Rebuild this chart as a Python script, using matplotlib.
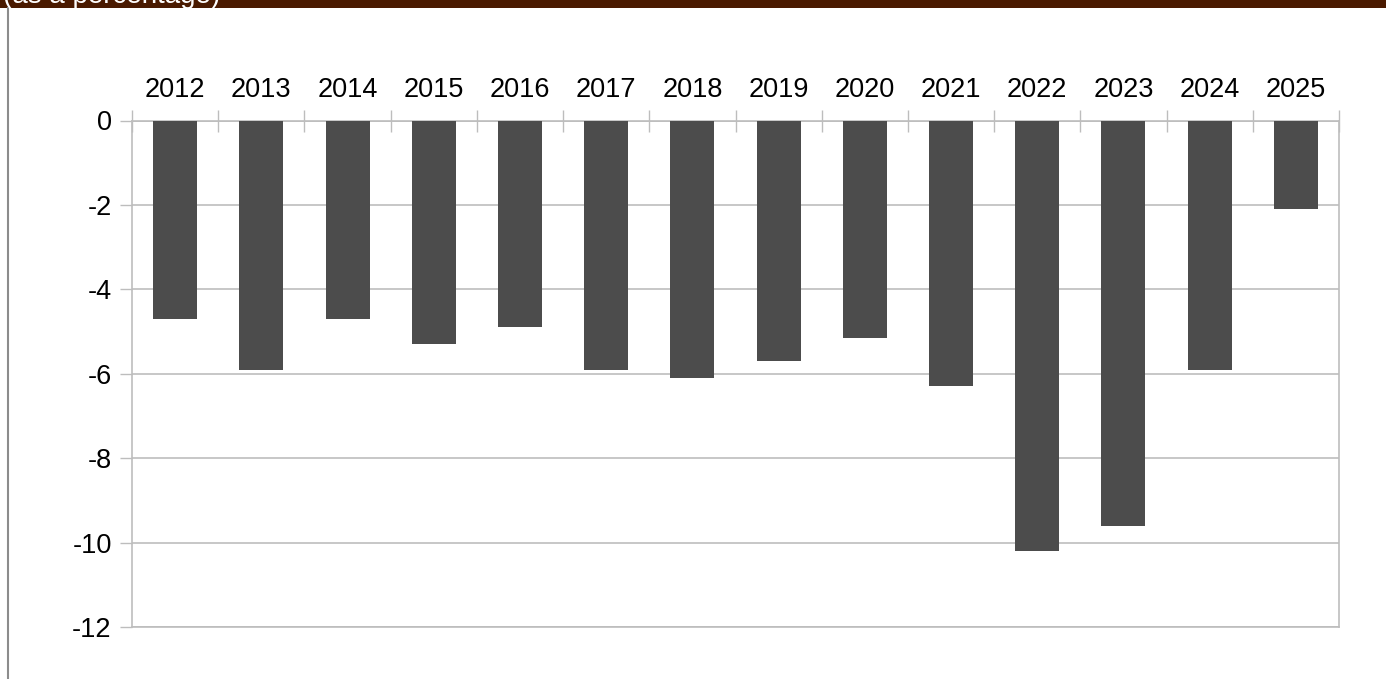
import numpy as np
import matplotlib
matplotlib.use("Agg")
import matplotlib.pyplot as plt

# data
years = ["2012", "2013", "2014", "2015", "2016", "2017", "2018",
         "2019", "2020", "2021", "2022", "2023", "2024", "2025"]
values = [-4.7, -5.9, -4.7, -5.3, -4.9, -5.9, -6.1,
          -5.7, -5.15, -6.3, -10.2, -9.6, -5.9, -2.1]
yticks = [0, -2, -4, -6, -8, -10, -12]

W, H = 1386, 679
plt.rcParams['font.family'] = ['Liberation Sans', 'DejaVu Sans']

fig = plt.figure(figsize=(W / 100, H / 100), dpi=100)
fig.patch.set_facecolor('white')

# brown header band with the cut off subtitle (only its lower edge shows)
band = plt.Rectangle((0, 1 - 7.5 / H), 1, 7.5 / H, transform=fig.transFigure,
                     facecolor='#4a1a00', edgecolor='none', zorder=0)
fig.add_artist(band)
fig.text(0.002, 1 - 3 / H, "(as a percentage)", color='white', fontsize=20,
         ha='left', va='baseline', zorder=5)
# thin grey frame line on the left
fig.add_artist(plt.Line2D([7.5 / W, 7.5 / W], [0, 1 - 7.5 / H], transform=fig.transFigure,
                          color='#8c8c8c', lw=1.5))

left, right, top, bottom = 132, 1339, 120.5, 627
ax = fig.add_axes([left / W, (H - bottom) / H, (right - left) / W, (bottom - top) / H])

x = np.arange(len(years))
ax.bar(x, values, width=0.51, color='#4c4c4c', zorder=3)

ax.set_xlim(-0.5, len(years) - 0.5)
ax.set_ylim(-12, 0)

grid_c = '#bdbdbd'
ax.set_yticks(yticks)
ax.set_yticklabels([str(v) for v in yticks])
ax.yaxis.grid(True, color=grid_c, lw=1.2, zorder=0)
ax.tick_params(axis='y', length=8.6, width=1, color=grid_c, pad=6, labelsize=19.5)

ax.xaxis.tick_top()
ax.set_xticks(x)
ax.set_xticklabels(years)
ax.set_xticks(np.arange(-0.5, len(years)), minor=True)
ax.tick_params(axis='x', which='major', length=0, pad=12.5, labelsize=19.5)
ax.tick_params(axis='x', which='minor', direction='inout', length=15.8, width=1,
               color=grid_c, top=True, bottom=False)

for s in ax.spines.values():
    s.set_color(grid_c)
    s.set_linewidth(1.2)

fig.savefig("out.png", dpi=100)
